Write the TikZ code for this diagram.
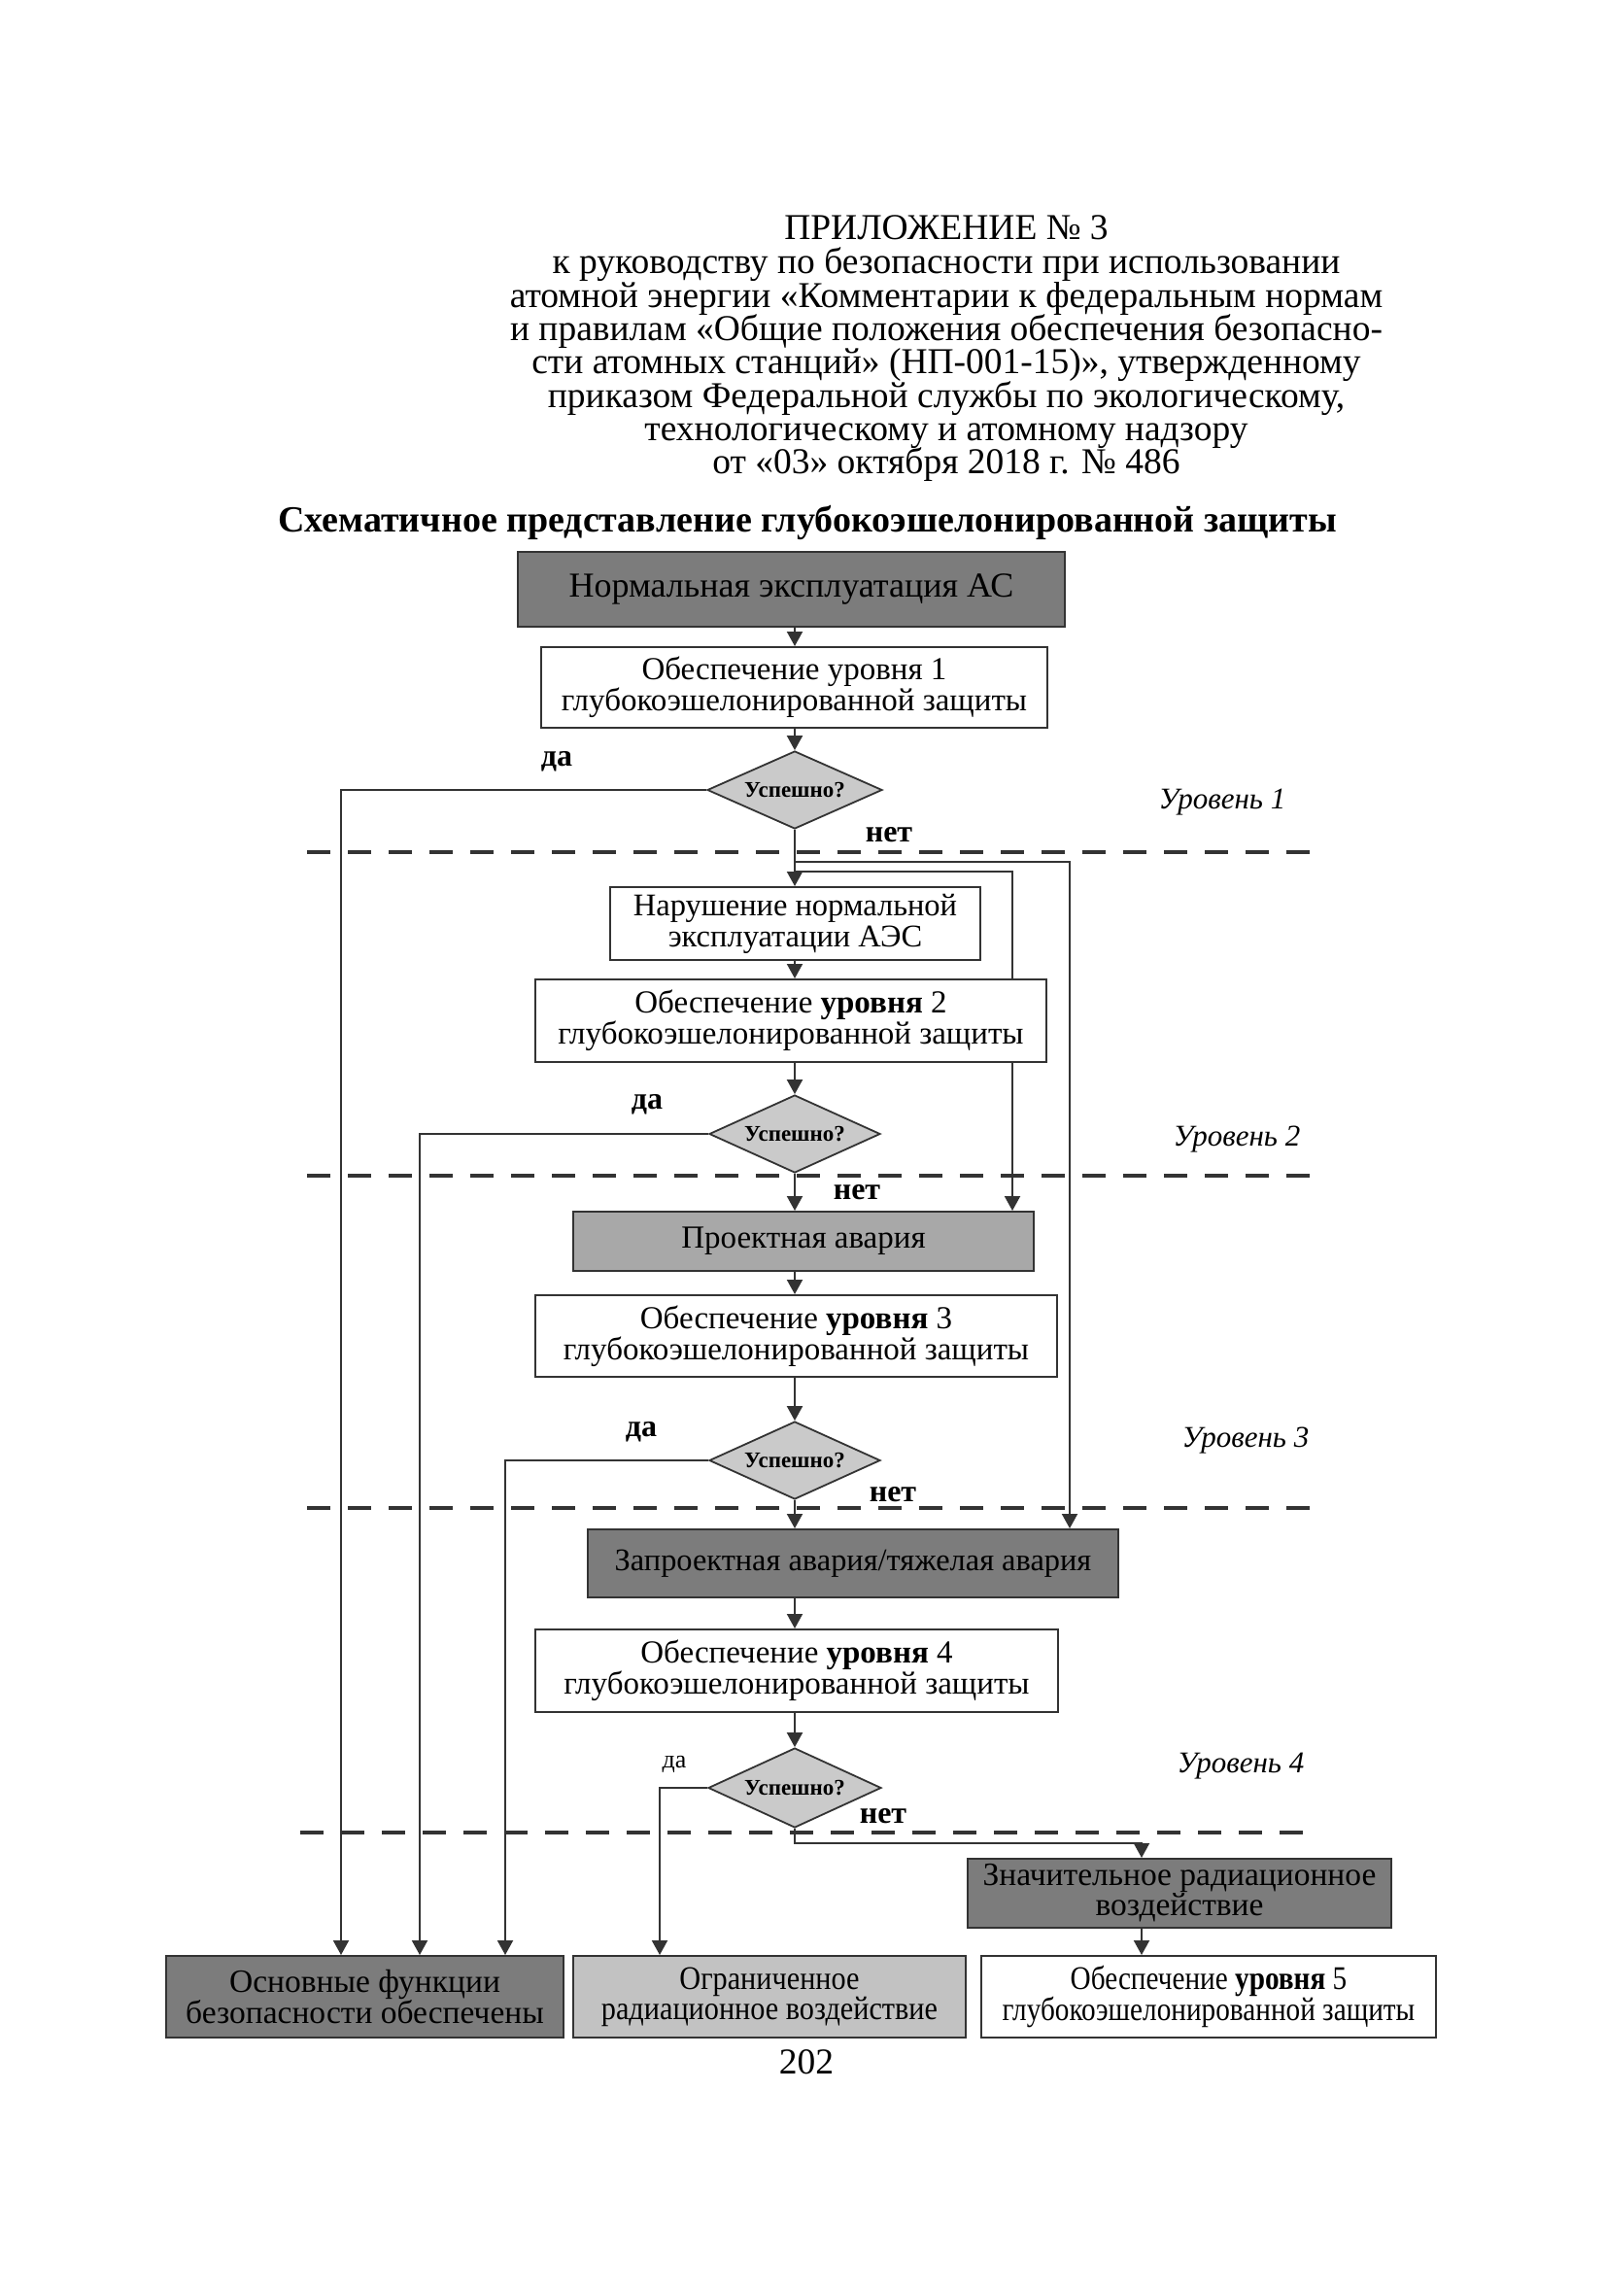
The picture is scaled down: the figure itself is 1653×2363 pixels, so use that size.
\documentclass[tikz,border=0pt]{standalone}
\usepackage{fontspec}
\setmainfont{Liberation Serif}
\newfontfamily\condfam[FakeStretch=0.86]{Liberation Serif}
\newfontfamily\condfamb[FakeStretch=0.89]{Liberation Serif}
\usetikzlibrary{arrows.meta,shapes.geometric,backgrounds}
\definecolor{linec}{HTML}{333333}
\definecolor{darkfill}{HTML}{7C7C7C}
\definecolor{midfill}{HTML}{A8A8A8}
\definecolor{lightfill}{HTML}{C2C2C2}
\definecolor{diafill}{HTML}{CACACA}
\newcommand\myhdr{\fontsize{37.5}{35}\selectfont}
\newcommand\mybox{\fontsize{33}{32}\selectfont}
\newcommand\mybot{\condfam\fontsize{34}{31}\selectfont}
\newcommand\mysmall{\fontsize{23}{23}\selectfont\bfseries}
\newcommand\mylab{\fontsize{32}{32}\selectfont\bfseries}
\begin{document}
\begin{tikzpicture}[x=1pt,y=-1pt,
  box/.style={draw=linec, line width=2pt, fill=white, inner sep=0pt, align=center, font=\mybox},
  botbox/.style={box, font=\mybot},
  dia/.style={diamond, draw=linec, line width=1.8pt, fill=diafill, inner sep=0pt, aspect=2.2, font=\mysmall},
  arr/.style={draw=linec, line width=2pt, -{Triangle[length=15pt,width=16pt]}},
  sep/.style={draw=linec, line width=4.5pt, dash pattern=on 24pt off 18pt},
  hdr/.style={anchor=base, inner sep=0pt, font=\myhdr},
  lab/.style={anchor=base, inner sep=0pt, font=\mylab},
  lvl/.style={anchor=base, inner sep=0pt, font=\fontsize{31}{31}\selectfont\itshape}
]
\useasboundingbox (0,0) rectangle (1653,2363);

% header
\node[hdr] (h1) at (974,246) {ПРИЛОЖЕНИЕ № 3};
\node[hdr] (h2) at (974,281) {к руководству по безопасности при использовании};
\node[hdr] (h3) at (974,316) {атомной энергии «Комментарии к федеральным нормам};
\node[hdr] (h4) at (974,350.5) {и правилам «Общие положения обеспечения безопасно-};
\node[hdr] (h5) at (974,384.5) {сти атомных станций» (НП-001-15)», утвержденному};
\node[hdr] (h6) at (974,419) {приказом Федеральной службы по экологическому,};
\node[hdr] (h7) at (974,453) {технологическому и атомному надзору};
\node[hdr] (h8) at (974,487.5) {от «03» октября 2018 г. № 486};
\node[hdr, font=\fontsize{38}{38}\selectfont\bfseries] (title) at (831,547) {Схематичное представление глубокоэшелонированной защиты};

% axis coordinates
\coordinate (ax) at (818,0);
\coordinate (l1) at (351,0);
\coordinate (l2) at (432,0);
\coordinate (l3) at (520,0);
\coordinate (l4) at (679,0);
\coordinate (r1) at (1101,887);
\coordinate (r2) at (1042,897);
\coordinate (j4) at (1175,1897);

% nodes
\node[box, fill=darkfill, minimum width=563pt, minimum height=77pt, font=\fontsize{36}{34}\selectfont] (top) at (814.5,606.5) {Нормальная эксплуатация АС};
\node[box, minimum width=521pt, minimum height=83pt] (box1) at (817.5,707.5) {Обеспечение уровня 1\\глубокоэшелонированной защиты};
\node[dia, minimum width=180pt, minimum height=80pt] (d1) at (818,813) {Успешно?};
\node[box, minimum width=381pt, minimum height=75pt, font=\fontsize{32.5}{32}\selectfont] (nar) at (818.5,950.5) {Нарушение нормальной\\эксплуатации АЭС};
\node[box, minimum width=526pt, minimum height=85pt] (box2) at (814,1050.5) {Обеспечение \textbf{уровня} 2\\глубокоэшелонированной защиты};
\node[dia, minimum width=176pt, minimum height=80pt] (d2) at (818,1167) {Успешно?};
\node[box, fill=midfill, minimum width=474pt, minimum height=61pt] (proekt) at (827,1277.5) {Проектная авария};
\node[box, minimum width=537pt, minimum height=84pt] (box3) at (819.5,1375) {Обеспечение \textbf{уровня} 3\\глубокоэшелонированной защиты};
\node[dia, minimum width=176pt, minimum height=80pt] (d3) at (818,1503) {Успешно?};
\node[box, fill=darkfill, minimum width=546pt, minimum height=70pt, font=\fontsize{32.4}{32}\selectfont] (zap) at (878,1609) {Запроектная авария/тяжелая авария};
\node[box, minimum width=538pt, minimum height=85pt] (box4) at (820,1719.5) {Обеспечение \textbf{уровня} 4\\глубокоэшелонированной защиты};
\node[dia, minimum width=178pt, minimum height=82pt] (d4) at (818,1840) {Успешно?};
\node[box, fill=darkfill, minimum width=436pt, minimum height=71pt, font=\fontsize{33.5}{31}\selectfont] (znach) at (1214,1948.5) {Значительное радиационное\\воздействие};
\node[box, fill=darkfill, minimum width=409pt, minimum height=84pt, font=\fontsize{33.5}{31}\selectfont] (osn) at (375.5,2055) {Основные функции\\безопасности обеспечены};
\node[box, fill=lightfill, minimum width=404pt, minimum height=84pt, font=\condfamb\fontsize{34}{31}\selectfont] (ogr) at (792,2055) {Ограниченное\\радиационное воздействие};
\node[botbox, minimum width=468pt, minimum height=84pt] (b5) at (1244,2055) {Обеспечение \textbf{уровня} 5\\глубокоэшелонированной защиты};

% labels
\node[lab] (da1) at (573,788) {да};
\node[lab] (da2) at (666,1141) {да};
\node[lab] (da3) at (660,1478) {да};
\node[lab, font=\fontsize{26}{26}\selectfont] (da4) at (694,1819) {да};
\node[lab] (net1) at (915,866) {нет};
\node[lab] (net2) at (882,1234) {нет};
\node[lab] (net3) at (919,1545) {нет};
\node[lab] (net4) at (909,1876) {нет};
\node[lvl] (u1) at (1258,832) {Уровень 1};
\node[lvl] (u2) at (1273,1179) {Уровень 2};
\node[lvl] (u3) at (1282,1489) {Уровень 3};
\node[lvl] (u4) at (1277,1824) {Уровень 4};
\node[hdr] (pg) at (830,2134) {202};

% separators
\draw[sep] (316,877) -- (1350,877);
\draw[sep] (316,1210) -- (1358,1210);
\draw[sep] (316,1552) -- (1355,1552);
\draw[sep] (309,1886) -- (1343,1886);

% connectors
\begin{pgfonlayer}{background}
\draw[arr] (top.south -| ax) -- (box1.north -| ax);
\draw[arr] (box1.south -| ax) -- (d1.north);
\draw[arr] (d1.south) -- (nar.north -| ax);
\draw[arr] (nar.south -| ax) -- (box2.north -| ax);
\draw[arr] (box2.south -| ax) -- (d2.north);
\draw[arr] (d2.south) -- (proekt.north -| ax);
\draw[arr] (proekt.south -| ax) -- (box3.north -| ax);
\draw[arr] (box3.south -| ax) -- (d3.north);
\draw[arr] (d3.south) -- (zap.north -| ax);
\draw[arr] (zap.south -| ax) -- (box4.north -| ax);
\draw[arr] (box4.south -| ax) -- (d4.north);
\draw[arr] (d4.south) |- (j4) -- (znach.north -| j4);
\draw[arr] (znach.south -| j4) -- (b5.north -| j4);
\draw[arr] (d1.west) -| (osn.north -| l1);
\draw[arr] (d2.west) -| (osn.north -| l2);
\draw[arr] (d3.west) -| (osn.north -| l3);
\draw[arr] (d4.west) -| (ogr.north -| l4);
\draw[arr] (r1 -| ax) -- (r1) -- (zap.north -| r1);
\draw[arr] (r2 -| ax) -- (r2) -- (proekt.north -| r2);
\end{pgfonlayer}
\end{tikzpicture}
\end{document}
